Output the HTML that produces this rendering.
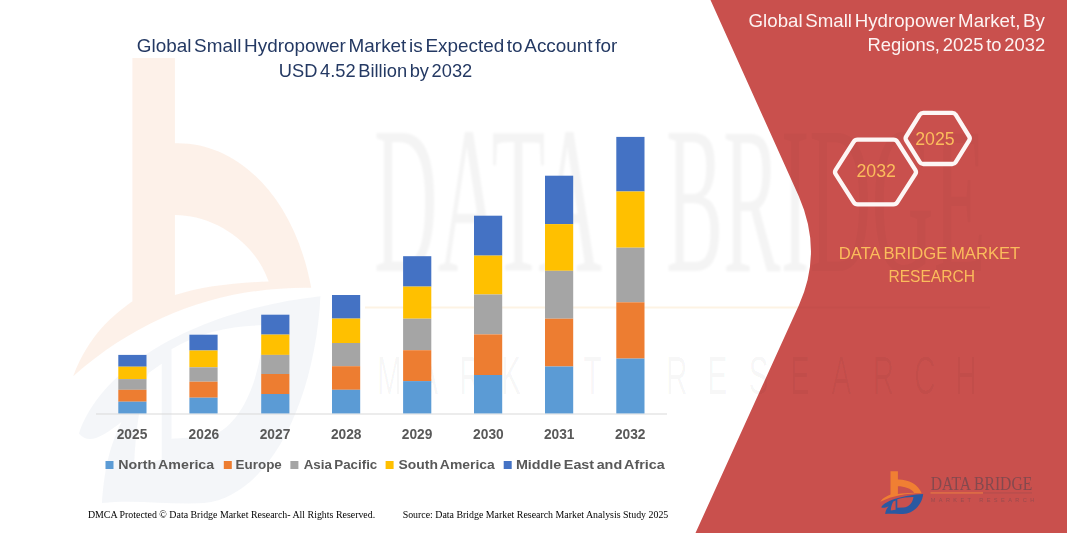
<!DOCTYPE html>
<html><head><meta charset="utf-8"><title>Global Small Hydropower Market</title>
<style>
html,body{margin:0;padding:0;background:#fff;}
body{width:1067px;height:533px;overflow:hidden;position:relative;font-family:"Liberation Sans",sans-serif;}
svg{position:absolute;left:0;top:0;display:block}
text{font-family:"Liberation Sans",sans-serif}
.ser{font-family:"Liberation Serif",serif}
</style></head><body>
<svg width="1067" height="533" viewBox="0 0 1067 533">
<defs>
<path id="lgO" d="M890.5,471.2 L897.9,471.2 L897.9,479.4 C908,479.2 918.5,484 921.6,493.3 C907,493.2 893,495.6 880.2,501.8 C883,497.8 887,496 890.5,494.6 Z M897.9,486.3 C904,486.3 911.5,488.5 914.2,492.7 C908,492.8 902.5,493.2 897.9,494 Z" fill-rule="evenodd"/>
<path id="lgB" d="M881.2,507.3 C886,499.8 905,495.2 923.2,494.1 C922.3,504 914.5,513.3 903,514 C897,514.2 891,513.6 885.2,514 C885.6,511 886.3,508.8 888.6,506.2 C885.5,507.5 883,508.5 881.2,507.3 Z M897.3,499.2 C902,497.6 908,496.9 913.4,496.9 C912.8,502.5 909,507 903.5,507.6 L897.3,507.8 Z M893.3,501.5 L895.6,500.6 L895.6,509.8 L890.8,510.4 C891,507 892,503.8 893.3,501.5 Z" fill-rule="evenodd"/>
<filter id="soft" x="-5%" y="-5%" width="110%" height="110%"><feGaussianBlur stdDeviation="0.9"/></filter>
<clipPath id="panelclip"><path d="M710.5,0 L798.8,196.2 Q823,251.5 799,305 L695.5,533 L1067,533 L1067,0 Z"/></clipPath>
</defs>
<rect width="1067" height="533" fill="#ffffff"/>

<g id="wm">
<g transform="translate(132.4,58) scale(5.75,10.4) translate(-890.5,-471.2)">
<use href="#lgO" fill="#ed7d31" fill-opacity="0.105"/>
<use href="#lgB" fill="#2f5597" fill-opacity="0.055"/>
</g>
<g fill="#000" fill-opacity="0.045" filter="url(#soft)"><text x="374" y="271" font-size="210" textLength="228" lengthAdjust="spacingAndGlyphs" style="font-family:'Liberation Serif',serif">DATA</text><text x="666" y="271" font-size="210" textLength="320" lengthAdjust="spacingAndGlyphs" style="font-family:'Liberation Serif',serif">BRIDGE</text></g>
<rect x="365" y="306.5" width="440" height="2" fill="#f4a742" fill-opacity="0.14"/>
<g font-size="54" fill="#000" fill-opacity="0.04"><text transform="translate(377.0,394) scale(0.55,1)" x="0" y="0">M</text><text transform="translate(418.3,394) scale(0.55,1)" x="0" y="0">A</text><text transform="translate(459.6,394) scale(0.55,1)" x="0" y="0">R</text><text transform="translate(500.9,394) scale(0.55,1)" x="0" y="0">K</text><text transform="translate(542.2,394) scale(0.55,1)" x="0" y="0">E</text><text transform="translate(583.5,394) scale(0.55,1)" x="0" y="0">T</text><text transform="translate(666.1,394) scale(0.55,1)" x="0" y="0">R</text><text transform="translate(707.4,394) scale(0.55,1)" x="0" y="0">E</text><text transform="translate(748.7,394) scale(0.55,1)" x="0" y="0">S</text><text transform="translate(790.0,394) scale(0.55,1)" x="0" y="0">E</text><text transform="translate(831.3,394) scale(0.55,1)" x="0" y="0">A</text><text transform="translate(872.6,394) scale(0.55,1)" x="0" y="0">R</text><text transform="translate(913.9,394) scale(0.55,1)" x="0" y="0">C</text><text transform="translate(955.2,394) scale(0.55,1)" x="0" y="0">H</text></g>
</g>
<!-- red panel -->
<path d="M710.5,0 L798.8,196.2 Q823,251.5 799,305 L695.5,533 L1067,533 L1067,0 Z" fill="#c9504d"/>
<g clip-path="url(#panelclip)">
<g fill="#000" fill-opacity="0.022"><text x="374" y="271" font-size="210" textLength="228" lengthAdjust="spacingAndGlyphs" style="font-family:'Liberation Serif',serif">DATA</text><text x="666" y="271" font-size="210" textLength="320" lengthAdjust="spacingAndGlyphs" style="font-family:'Liberation Serif',serif">BRIDGE</text></g>
<rect x="790" y="306.5" width="200" height="2" fill="#000" fill-opacity="0.02"/>
<g font-size="54" fill="#000" fill-opacity="0.03"><text transform="translate(377.0,394) scale(0.55,1)" x="0" y="0">M</text><text transform="translate(418.3,394) scale(0.55,1)" x="0" y="0">A</text><text transform="translate(459.6,394) scale(0.55,1)" x="0" y="0">R</text><text transform="translate(500.9,394) scale(0.55,1)" x="0" y="0">K</text><text transform="translate(542.2,394) scale(0.55,1)" x="0" y="0">E</text><text transform="translate(583.5,394) scale(0.55,1)" x="0" y="0">T</text><text transform="translate(666.1,394) scale(0.55,1)" x="0" y="0">R</text><text transform="translate(707.4,394) scale(0.55,1)" x="0" y="0">E</text><text transform="translate(748.7,394) scale(0.55,1)" x="0" y="0">S</text><text transform="translate(790.0,394) scale(0.55,1)" x="0" y="0">E</text><text transform="translate(831.3,394) scale(0.55,1)" x="0" y="0">A</text><text transform="translate(872.6,394) scale(0.55,1)" x="0" y="0">R</text><text transform="translate(913.9,394) scale(0.55,1)" x="0" y="0">C</text><text transform="translate(955.2,394) scale(0.55,1)" x="0" y="0">H</text></g>
</g>
<!-- axis -->
<line x1="96" y1="414" x2="667" y2="414" stroke="#d9d9d9" stroke-width="1"/>
<!-- bars -->
<rect x="118.3" y="354.9" width="28.2" height="11.8" fill="#4472c4"/>
<rect x="118.3" y="366.7" width="28.2" height="12.4" fill="#ffc000"/>
<rect x="118.3" y="379.1" width="28.2" height="10.7" fill="#a5a5a5"/>
<rect x="118.3" y="389.8" width="28.2" height="11.9" fill="#ed7d31"/>
<rect x="118.3" y="401.7" width="28.2" height="11.7" fill="#5b9bd5"/>
<rect x="189.4" y="334.7" width="28.2" height="15.8" fill="#4472c4"/>
<rect x="189.4" y="350.5" width="28.2" height="16.8" fill="#ffc000"/>
<rect x="189.4" y="367.3" width="28.2" height="14.4" fill="#a5a5a5"/>
<rect x="189.4" y="381.7" width="28.2" height="16.0" fill="#ed7d31"/>
<rect x="189.4" y="397.7" width="28.2" height="15.7" fill="#5b9bd5"/>
<rect x="261.2" y="314.7" width="28.2" height="19.9" fill="#4472c4"/>
<rect x="261.2" y="334.6" width="28.2" height="20.3" fill="#ffc000"/>
<rect x="261.2" y="354.9" width="28.2" height="19.1" fill="#a5a5a5"/>
<rect x="261.2" y="374.0" width="28.2" height="20.0" fill="#ed7d31"/>
<rect x="261.2" y="394.0" width="28.2" height="19.4" fill="#5b9bd5"/>
<rect x="332.0" y="295.0" width="28.2" height="23.6" fill="#4472c4"/>
<rect x="332.0" y="318.6" width="28.2" height="24.4" fill="#ffc000"/>
<rect x="332.0" y="343.0" width="28.2" height="23.2" fill="#a5a5a5"/>
<rect x="332.0" y="366.2" width="28.2" height="23.6" fill="#ed7d31"/>
<rect x="332.0" y="389.8" width="28.2" height="23.6" fill="#5b9bd5"/>
<rect x="403.1" y="256.2" width="28.2" height="30.4" fill="#4472c4"/>
<rect x="403.1" y="286.6" width="28.2" height="32.1" fill="#ffc000"/>
<rect x="403.1" y="318.7" width="28.2" height="31.5" fill="#a5a5a5"/>
<rect x="403.1" y="350.2" width="28.2" height="30.9" fill="#ed7d31"/>
<rect x="403.1" y="381.1" width="28.2" height="32.3" fill="#5b9bd5"/>
<rect x="474.0" y="215.7" width="28.2" height="39.9" fill="#4472c4"/>
<rect x="474.0" y="255.6" width="28.2" height="38.9" fill="#ffc000"/>
<rect x="474.0" y="294.5" width="28.2" height="39.9" fill="#a5a5a5"/>
<rect x="474.0" y="334.4" width="28.2" height="40.6" fill="#ed7d31"/>
<rect x="474.0" y="375.0" width="28.2" height="38.4" fill="#5b9bd5"/>
<rect x="545.0" y="175.7" width="28.2" height="48.4" fill="#4472c4"/>
<rect x="545.0" y="224.1" width="28.2" height="46.7" fill="#ffc000"/>
<rect x="545.0" y="270.8" width="28.2" height="47.9" fill="#a5a5a5"/>
<rect x="545.0" y="318.7" width="28.2" height="47.8" fill="#ed7d31"/>
<rect x="545.0" y="366.5" width="28.2" height="46.9" fill="#5b9bd5"/>
<rect x="616.3" y="136.9" width="28.2" height="54.6" fill="#4472c4"/>
<rect x="616.3" y="191.5" width="28.2" height="56.2" fill="#ffc000"/>
<rect x="616.3" y="247.7" width="28.2" height="54.6" fill="#a5a5a5"/>
<rect x="616.3" y="302.3" width="28.2" height="56.3" fill="#ed7d31"/>
<rect x="616.3" y="358.6" width="28.2" height="54.8" fill="#5b9bd5"/>
<g opacity="0.999">
<!-- title -->
<g fill="#243963" font-size="17.8" word-spacing="-2.4">
<text x="136.8" y="52.3" textLength="480.5" lengthAdjust="spacingAndGlyphs">Global Small Hydropower Market is Expected to Account for</text>
<text x="278.8" y="76.7" textLength="193.5" lengthAdjust="spacingAndGlyphs">USD 4.52 Billion by 2032</text>
</g>
<!-- year labels -->
<g fill="#595959" font-size="13.8" font-weight="bold">
<text x="116.7" y="439.2" textLength="30.6" lengthAdjust="spacingAndGlyphs">2025</text>
<text x="188.6" y="439.2" textLength="30.6" lengthAdjust="spacingAndGlyphs">2026</text>
<text x="259.7" y="439.2" textLength="30.6" lengthAdjust="spacingAndGlyphs">2027</text>
<text x="330.9" y="439.2" textLength="30.6" lengthAdjust="spacingAndGlyphs">2028</text>
<text x="401.8" y="439.2" textLength="30.6" lengthAdjust="spacingAndGlyphs">2029</text>
<text x="473.1" y="439.2" textLength="30.6" lengthAdjust="spacingAndGlyphs">2030</text>
<text x="543.9" y="439.2" textLength="30.6" lengthAdjust="spacingAndGlyphs">2031</text>
<text x="614.9" y="439.2" textLength="30.6" lengthAdjust="spacingAndGlyphs">2032</text>
</g>
<!-- legend -->
<g>
<rect x="105.5" y="461" width="8" height="8" fill="#5b9bd5"/>
<rect x="223.8" y="461" width="8" height="8" fill="#ed7d31"/>
<rect x="290.4" y="461" width="8" height="8" fill="#a5a5a5"/>
<rect x="385.6" y="461" width="8" height="8" fill="#ffc000"/>
<rect x="503.7" y="461" width="8" height="8" fill="#4472c4"/>
</g>
<g fill="#595959" font-size="13.6" font-weight="bold" word-spacing="-1.4">
<text x="118.2" y="469.2" textLength="96" lengthAdjust="spacingAndGlyphs">North America</text>
<text x="235.6" y="469.2" textLength="46.2" lengthAdjust="spacingAndGlyphs">Europe</text>
<text x="303.7" y="469.2" textLength="73.6" lengthAdjust="spacingAndGlyphs">Asia Pacific</text>
<text x="398.6" y="469.2" textLength="96.1" lengthAdjust="spacingAndGlyphs">South America</text>
<text x="515.9" y="469.2" textLength="148.9" lengthAdjust="spacingAndGlyphs">Middle East and Africa</text>
</g>
<!-- footer -->
<g class="ser" fill="#000" font-size="9.8" style="font-family:'Liberation Serif',serif">
<text x="87.9" y="517.7" textLength="287.3" lengthAdjust="spacingAndGlyphs" style="font-family:'Liberation Serif',serif">DMCA Protected © Data Bridge Market Research-  All Rights Reserved.</text>
<text x="402.7" y="517.7" textLength="265.6" lengthAdjust="spacingAndGlyphs" style="font-family:'Liberation Serif',serif">Source: Data Bridge Market Research  Market Analysis Study 2025</text>
</g>
<!-- right panel title -->
<g fill="#fdf3f2" font-size="18.2" word-spacing="-2.4">
<text x="748.6" y="27" textLength="296.3" lengthAdjust="spacingAndGlyphs">Global Small Hydropower Market, By</text>
<text x="867.4" y="50.9" textLength="177.8" lengthAdjust="spacingAndGlyphs">Regions, 2025 to 2032</text>
</g>
<!-- hexagons -->
<g fill="none" stroke="#fdf6f5" stroke-width="4.3" stroke-linejoin="round">
<path d="M835.7,174.2 Q834.3,172.0 835.7,169.8 L853.6,141.8 Q855.0,139.6 857.6,139.6 L893.4,139.6 Q896.0,139.6 897.4,141.8 L915.3,169.8 Q916.7,172.0 915.3,174.2 L897.4,202.1 Q896.0,204.3 893.4,204.3 L857.6,204.3 Q855.0,204.3 853.6,202.1 Z"/>
<path d="M906.2,140.3 Q905.0,138.4 906.2,136.5 L919.8,114.7 Q921.0,112.8 923.2,112.8 L952.3,112.8 Q954.5,112.8 955.7,114.7 L969.2,136.5 Q970.4,138.4 969.2,140.3 L955.7,162.1 Q954.5,164.0 952.3,164.0 L923.2,164.0 Q921.0,164.0 919.8,162.1 Z"/>
</g>
<g fill="#fbbc5c" font-size="18.4">
<text x="856.4" y="177.2" textLength="39.6" lengthAdjust="spacingAndGlyphs">2032</text>
<text x="915.2" y="145.2" textLength="39.4" lengthAdjust="spacingAndGlyphs">2025</text>
</g>
<g fill="#fbbc5c" font-size="17.4" word-spacing="-1">
<text x="838.8" y="259" textLength="181.5" lengthAdjust="spacingAndGlyphs">DATA BRIDGE MARKET</text>
<text x="888.4" y="281.9" textLength="86.6" lengthAdjust="spacingAndGlyphs">RESEARCH</text>
</g>
<g>
<use href="#lgO" fill="#f07f33"/>
<use href="#lgB" fill="#2b59a1"/>
<text x="930.7" y="490.3" font-size="19" textLength="101.5" lengthAdjust="spacingAndGlyphs" fill="#5a4650" opacity="0.62" style="font-family:'Liberation Serif',serif">DATA BRIDGE</text>
<rect x="930.5" y="492.5" width="52.5" height="0.9" fill="#ef8440"/>
<rect x="983" y="492.6" width="49" height="0.7" fill="#5a4650" fill-opacity="0.3"/>
<text x="930.7" y="502.2" font-size="5.6" textLength="103.5" lengthAdjust="spacing" fill="#5a4650" opacity="0.42">MARKET RESEARCH</text>
</g>
</g>
</svg>
</body></html>
